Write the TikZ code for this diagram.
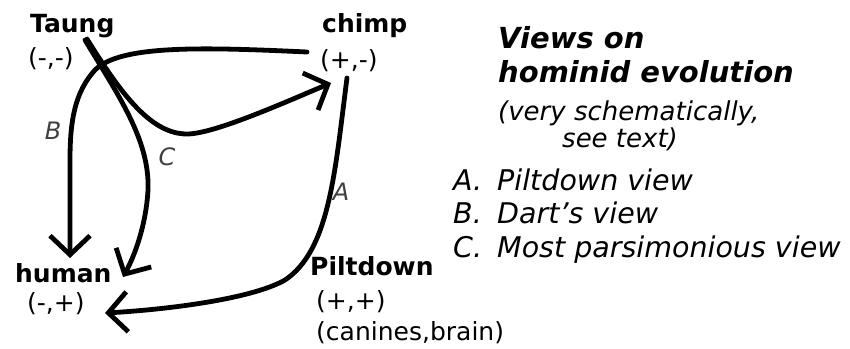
\documentclass[tikz,border=0pt]{standalone}
\usepackage{fontspec}
\setmainfont{DejaVu Sans}
\usetikzlibrary{arrows.meta}
\begin{document}
\begin{tikzpicture}[x=1pt,y=-1pt,
  lbl/.style={inner sep=0pt, anchor=base west, font=\fontsize{25}{30}\selectfont},
  blbl/.style={inner sep=0pt, anchor=base west, font=\fontsize{25}{30}\selectfont\bfseries},
  edgelbl/.style={inner sep=0pt, font=\fontsize{24}{28}\selectfont\itshape, text=black!75},
  titlebox/.style={inner sep=0pt, anchor=base west, font=\fontsize{29}{34}\selectfont\bfseries\itshape},
  subbox/.style={inner sep=0pt, anchor=base west, font=\fontsize{26}{30}\selectfont\itshape},
  itembox/.style={inner sep=0pt, anchor=base west, font=\fontsize{28.5}{34}\selectfont\itshape},
  conn/.style={line width=4.8pt, line cap=round, line join=round},
  arr/.style={conn, -{Straight Barb[length=19pt,width=40pt]}}
]
\useasboundingbox (0,0) rectangle (850,348);
\fill[white] (0,0) rectangle (850,348);

% vertices
\node[blbl] (taung) at (30,32) {Taung};
\node[lbl] (taungv) at (28,66) {(-,-)};
\node[blbl] (chimp) at (322,32) {chimp};
\node[lbl] (chimpv) at (320,68) {(+,-)};
\node[blbl] (human) at (15,282) {human};
\node[lbl] (humanv) at (27,311) {(-,+)};
\node[blbl] (pilt) at (310,275) {Piltdown};
\node[lbl] (piltv) at (316,309) {(+,+)};
\node[lbl] (piltc) at (316,340) {(canines,brain)};

% legend
\node[titlebox] (t1) at (498,48) {Views on};
\node[titlebox] (t2) at (498,82) {hominid evolution};
\node[subbox] (s1) at (498,120) {(very schematically,};
\node[subbox] (s2) at (562,147) {see text)};
\node[itembox] (ia) at (453,190) {A.};
\node[itembox] (iat) at (497,190) {Piltdown view};
\node[itembox] (ib) at (453,223) {B.};
\node[itembox] (ibt) at (497,223) {Dart's view};
\node[itembox] (ic) at (453,257) {C.};
\node[itembox] (ict) at (497,257) {Most parsimonious view};

% connector end points
\coordinate (tS) at (85,40);
\coordinate (tS2) at (87,39);
\coordinate (cE) at (331,83);
\coordinate (cS) at (307,52);
\coordinate (cA) at (347,78);
\coordinate (hB) at (70,258);
\coordinate (hC) at (123,277);
\coordinate (hA) at (105,313);

% C: Taung -> chimp and Taung -> human
\draw[arr] (tS2) .. controls (120,92) and (150,134) .. (187,134)
  .. controls (215,134) and (290,100) .. (cE);
\draw[arr] (tS) .. controls (118,95) and (150,140) .. (148,190)
  .. controls (146,225) and (135,255) .. (hC);
% B: chimp -> Taung -> human
\draw[arr] (cS) .. controls (200,47) and (120,45) .. (95,70)
  .. controls (75,92) and (70,120) .. (70,160) -- (hB);
% A: chimp -> Piltdown -> human
\draw[arr] (cA) .. controls (335,170) and (330,250) .. (285,280)
  .. controls (250,300) and (160,310) .. (hA);

% edge labels
\node[edgelbl] (lb) at (53,131) {B};
\node[edgelbl] (lc) at (167,157) {C};
\node[edgelbl] (la) at (341,192) {A};
\end{tikzpicture}
\end{document}
